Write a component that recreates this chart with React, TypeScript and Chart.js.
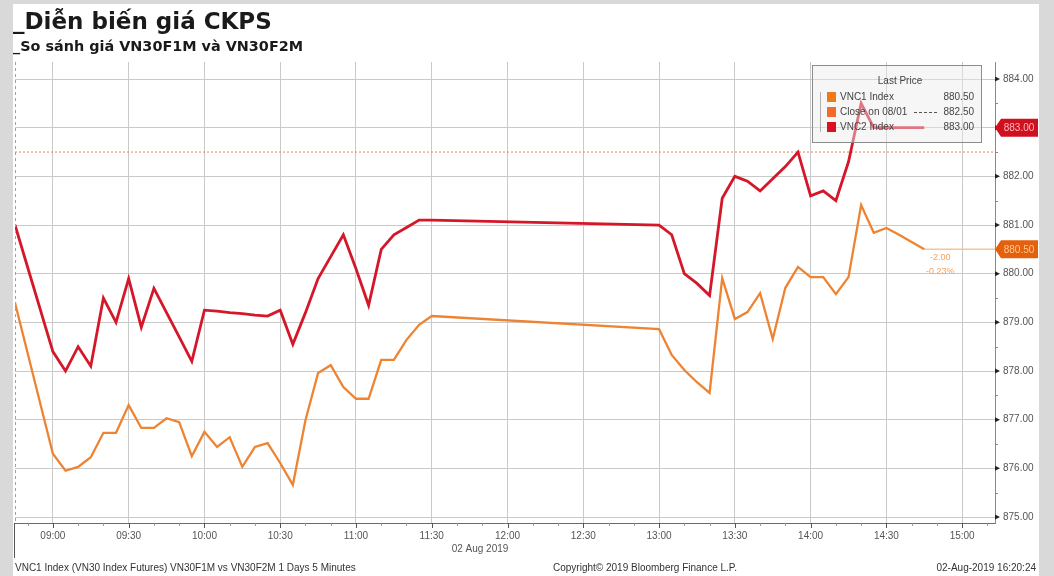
import React, { useEffect, useRef } from "react";
import { Chart, registerables } from "chart.js";

Chart.register(...registerables);

// 5-minute bars, 02 Aug 2019 (morning session, lunch break, afternoon session)
const times = [
  "08:45", "09:00", "09:05", "09:10", "09:15", "09:20", "09:25", "09:30", "09:35", "09:40",
  "09:45", "09:50", "09:55", "10:00", "10:05", "10:10", "10:15", "10:20", "10:25", "10:30",
  "10:35", "10:40", "10:45", "10:50", "10:55", "11:00", "11:05", "11:10", "11:15", "11:20",
  "11:25", "11:30", "13:00", "13:05", "13:10", "13:15", "13:20", "13:25", "13:30", "13:35",
  "13:40", "13:45", "13:50", "13:55", "14:00", "14:05", "14:10", "14:15", "14:20", "14:25",
  "14:30", "14:35", "14:40", "14:45",
];

// VNC1 Index (VN30F1M)
const vnc1 = [
  879.4, 876.3, 875.95, 876.03, 876.23, 876.73, 876.73, 877.3, 876.83, 876.83,
  877.03, 876.95, 876.25, 876.75, 876.44, 876.64, 876.03, 876.44, 876.52, 876.11,
  875.66, 876.99, 877.96, 878.12, 877.67, 877.43, 877.43, 878.23, 878.23, 878.64,
  878.95, 879.13, 878.86, 878.33, 878.02, 877.77, 877.55, 879.91, 879.07, 879.21,
  879.6, 878.66, 879.71, 880.14, 879.93, 879.93, 879.58, 879.93, 881.41, 880.84,
  880.94, 880.8, 880.65, 880.5,
];

// VNC2 Index (VN30F2M)
const vnc2 = [
  881.0, 878.4, 878.0, 878.5, 878.1, 879.5, 879.0, 879.9, 878.9, 879.7,
  879.2, 878.7, 878.2, 879.25, 879.23, 879.2, 879.18, 879.15, 879.13, 879.25,
  878.55, 879.2, 879.9, 880.35, 880.8, 880.1, 879.35, 880.5, 880.8, 880.95,
  881.1, 881.1, 881.0, 880.8, 880.0, 879.8, 879.55, 881.55, 882.0, 881.9,
  881.7, 881.95, 882.2, 882.5, 881.6, 881.7, 881.5, 882.3, 883.5, 883.0,
  883.0, 883.0, 883.0, 883.0,
];

const prevClose = 882.5;
const prevCloseLabel = "Close on 08/01";
const seriesNames = ["VNC1 Index", "VNC2 Index"];
const yTicks = [875, 876, 877, 878, 879, 880, 881, 882, 883, 884];
const xTickLabels = [
  "09:00", "09:30", "10:00", "10:30", "11:00", "11:30", "12:00",
  "12:30", "13:00", "13:30", "14:00", "14:30", "15:00",
];

const titleText = "_Diễn biến giá CKPS";
const subtitleText = "_So sánh giá VN30F1M và VN30F2M";
const dateText = "02 Aug 2019";
const footerLeft = "VNC1 Index (VN30 Index Futures) VN30F1M vs VN30F2M 1 Days 5 Minutes";
const footerMid = "Copyright© 2019 Bloomberg Finance L.P.";
const footerRight = "02-Aug-2019 16:20:24";

const X_MIN = 525;
const X_MAX = 913;

const RED = "#d5172a";
const ORANGE = "#ee8332";
const TAG_ORANGE = "#e4600c";
const SANS = "'Liberation Sans', Arial, sans-serif";
const BOLD = "'DejaVu Sans', Verdana, sans-serif";

const toMin = (s: string) => {
  const [h, m] = s.split(":").map(Number);
  return h * 60 + m;
};
const fmtMin = (v: number) => {
  const h = Math.floor(v / 60);
  const m = Math.round(v % 60);
  return `${String(h).padStart(2, "0")}:${String(m).padStart(2, "0")}`;
};

const decor = {
  id: "decor",
  beforeDraw(chart: any) {
    const { ctx, width, height } = chart;
    ctx.save();
    ctx.fillStyle = "#d9d9d9";
    ctx.fillRect(0, 0, width, height);
    ctx.fillStyle = "#ffffff";
    ctx.fillRect(13, 4, 1026, height - 4);
    ctx.restore();
  },
  afterDatasetsDraw(chart: any) {
    const { ctx } = chart;
    const last1 = vnc1[vnc1.length - 1];
    const last2 = vnc2[vnc2.length - 1];
    // Legend panel (semi-transparent so the lines show through)
    ctx.save();
    ctx.fillStyle = "rgba(236,236,236,0.45)";
    ctx.fillRect(812.5, 65.5, 169, 77);
    ctx.strokeStyle = "#8c8c8c";
    ctx.lineWidth = 1;
    ctx.strokeRect(812.5, 65.5, 169, 77);
    ctx.font = `10px ${SANS}`;
    ctx.fillStyle = "#444";
    ctx.textBaseline = "middle";
    ctx.textAlign = "center";
    ctx.fillText("Last Price", 900, 81);
    const rows = [
      { name: seriesNames[0], val: last1, color: "#f07a1a", y: 97 },
      { name: prevCloseLabel, val: prevClose, color: "#f26a2c", y: 112 },
      { name: seriesNames[1], val: last2, color: "#de0f1f", y: 127 },
    ];
    rows.forEach((r, i) => {
      ctx.fillStyle = r.color;
      ctx.fillRect(827, r.y - 5, 9, 10);
      ctx.fillStyle = "#444";
      ctx.textAlign = "left";
      ctx.fillText(r.name, 840, r.y);
      ctx.textAlign = "right";
      ctx.fillText(r.val.toFixed(2), 974, r.y);
      if (i === 1) {
        ctx.strokeStyle = "#555";
        ctx.setLineDash([3, 2]);
        ctx.beginPath();
        ctx.moveTo(914, r.y + 0.5);
        ctx.lineTo(937, r.y + 0.5);
        ctx.stroke();
        ctx.setLineDash([]);
      }
    });
    ctx.strokeStyle = "#b0b0b0";
    ctx.beginPath();
    ctx.moveTo(820.5, 92);
    ctx.lineTo(820.5, 132);
    ctx.stroke();
    ctx.restore();
  },
  afterDraw(chart: any) {
    const { ctx, chartArea, scales } = chart;
    const xs = scales.x;
    const ys = scales.y;
    const { left, right, top, bottom } = chartArea;
    ctx.save();

    // Titles
    ctx.fillStyle = "#1a1a1a";
    ctx.textAlign = "left";
    ctx.textBaseline = "alphabetic";
    ctx.font = `bold 23px ${BOLD}`;
    ctx.fillText(titleText, 13, 29);
    ctx.font = `bold 14.4px ${BOLD}`;
    ctx.fillText(subtitleText, 13, 51);

    // Left edge dashed line and marker
    ctx.strokeStyle = "#a0a0a0";
    ctx.lineWidth = 1;
    ctx.setLineDash([3, 3]);
    ctx.beginPath();
    ctx.moveTo(left + 0.5, top);
    ctx.lineTo(left + 0.5, bottom);
    ctx.stroke();
    ctx.setLineDash([]);
    ctx.strokeStyle = "#555";
    ctx.beginPath();
    ctx.moveTo(14.5, bottom);
    ctx.lineTo(14.5, 558);
    ctx.stroke();

    // X axis ticks: majors every 30 min, minors every 10 min
    for (let m = 530; m <= X_MAX; m += 10) {
      const px = Math.round(xs.getPixelForValue(m)) + 0.5;
      const major = m % 30 === 0;
      ctx.strokeStyle = major ? "#555" : "#9a9a9a";
      ctx.beginPath();
      ctx.moveTo(px, bottom);
      ctx.lineTo(px, bottom + (major ? 5 : 3));
      ctx.stroke();
    }

    // Y axis arrow ticks and half-unit minor ticks
    yTicks.forEach((v) => {
      const py = ys.getPixelForValue(v);
      ctx.fillStyle = "#222";
      ctx.beginPath();
      ctx.moveTo(right, py - 2.5);
      ctx.lineTo(right + 5, py);
      ctx.lineTo(right, py + 2.5);
      ctx.closePath();
      ctx.fill();
      const ph = Math.round(ys.getPixelForValue(v + 0.5)) + 0.5;
      if (v + 0.5 < ys.max) {
        ctx.strokeStyle = "#888";
        ctx.beginPath();
        ctx.moveTo(right, ph);
        ctx.lineTo(right + 3, ph);
        ctx.stroke();
      }
    });

    // Last price tags
    const tag = (val: number, fill: string, textColor: string) => {
      const yc = ys.getPixelForValue(val);
      ctx.fillStyle = fill;
      ctx.beginPath();
      ctx.moveTo(right, yc);
      ctx.lineTo(right + 6, yc - 9);
      ctx.lineTo(1038, yc - 9);
      ctx.lineTo(1038, yc + 9);
      ctx.lineTo(right + 6, yc + 9);
      ctx.closePath();
      ctx.fill();
      ctx.fillStyle = textColor;
      ctx.font = `10px ${SANS}`;
      ctx.textAlign = "center";
      ctx.textBaseline = "middle";
      ctx.fillText(val.toFixed(2), 1019, yc + 0.5);
    };
    const last1 = vnc1[vnc1.length - 1];
    const last2 = vnc2[vnc2.length - 1];
    tag(last2, "#d0101e", "#ffb8bd");
    tag(last1, TAG_ORANGE, "#ffc890");

    // Net change annotations at the VNC1 last point
    const chg = last1 - prevClose;
    const pct = (chg / prevClose) * 100;
    const lx = xs.getPixelForValue(toMin(times[times.length - 1])) + 16;
    const ly = ys.getPixelForValue(last1);
    ctx.fillStyle = "#f2a060";
    ctx.font = `9px ${SANS}`;
    ctx.textAlign = "center";
    ctx.fillText(chg.toFixed(2), lx, ly + 8);
    ctx.fillText(`${pct.toFixed(2)}%`, lx, ly + 22);

    // Date and footer
    ctx.fillStyle = "#555";
    ctx.font = `10px ${SANS}`;
    ctx.textAlign = "center";
    ctx.textBaseline = "middle";
    ctx.fillText(dateText, 480, 549);
    ctx.fillStyle = "#333";
    ctx.textAlign = "left";
    ctx.fillText(footerLeft, 15, 568);
    ctx.textAlign = "center";
    ctx.fillText(footerMid, 645, 568);
    ctx.textAlign = "right";
    ctx.fillText(footerRight, 1036, 568);
    ctx.restore();
  },
};

export default function App() {
  const ref = useRef<HTMLCanvasElement | null>(null);

  useEffect(() => {
    if (!ref.current) return;
    const xVals = times.map(toMin);
    const lastX = xVals[xVals.length - 1];
    const chart = new Chart(ref.current, {
      type: "line",
      data: {
        datasets: [
          {
            label: prevCloseLabel,
            data: [
              { x: X_MIN, y: prevClose },
              { x: X_MAX, y: prevClose },
            ],
            borderColor: "#f0804a",
            borderWidth: 1,
            borderDash: [2, 2],
            pointRadius: 0,
            order: 3,
          },
          {
            label: "VNC1 last",
            data: [
              { x: lastX, y: vnc1[vnc1.length - 1] },
              { x: X_MAX, y: vnc1[vnc1.length - 1] },
            ],
            borderColor: "#f6c49a",
            borderWidth: 1.5,
            pointRadius: 0,
            order: 3,
          },
          {
            label: seriesNames[0],
            data: xVals.map((x, i) => ({ x, y: vnc1[i] })),
            borderColor: ORANGE,
            borderWidth: 2.3,
            pointRadius: 0,
            tension: 0,
            order: 2,
          },
          {
            label: seriesNames[1],
            data: xVals.map((x, i) => ({ x, y: vnc2[i] })),
            borderColor: RED,
            borderWidth: 2.8,
            pointRadius: 0,
            tension: 0,
            order: 1,
          },
        ],
      },
      options: {
        responsive: false,
        animation: false,
        devicePixelRatio: 1,
        layout: { padding: { left: 15, top: 62, right: 0, bottom: 0 } },
        plugins: {
          legend: { display: false },
          tooltip: { enabled: false },
          title: { display: false },
        },
        scales: {
          x: {
            type: "linear",
            min: X_MIN,
            max: X_MAX,
            afterBuildTicks: (scale: any) => {
              scale.ticks = xTickLabels.map((t) => ({ value: toMin(t) }));
            },
            afterFit: (scale: any) => {
              scale.height = 53;
            },
            grid: { color: "#c9c9c9", lineWidth: 1, drawTicks: false },
            border: { display: true, color: "#6a6a6a", width: 1 },
            ticks: {
              padding: 7,
              maxRotation: 0,
              autoSkip: false,
              color: "#555",
              font: { family: SANS, size: 10 },
              callback: (v: any) => fmtMin(Number(v)),
            },
          },
          y: {
            type: "linear",
            position: "right",
            min: 874.877,
            max: 884.35,
            afterBuildTicks: (scale: any) => {
              scale.ticks = yTicks.map((v) => ({ value: v }));
            },
            afterFit: (scale: any) => {
              scale.width = 59;
            },
            grid: { color: "#c9c9c9", lineWidth: 1, drawTicks: false },
            border: { display: true, color: "#8a8a8a", width: 1 },
            ticks: {
              padding: 8,
              color: "#555",
              font: { family: SANS, size: 10 },
              callback: (v: any) => Number(v).toFixed(2),
            },
          },
        },
      },
      plugins: [decor],
    });
    return () => chart.destroy();
  }, []);

  return (
    <div style={{ position: "absolute", left: 0, top: 0, width: 1054, height: 576 }}>
      <canvas ref={ref} width={1054} height={576} style={{ display: "block" }} />
    </div>
  );
}
